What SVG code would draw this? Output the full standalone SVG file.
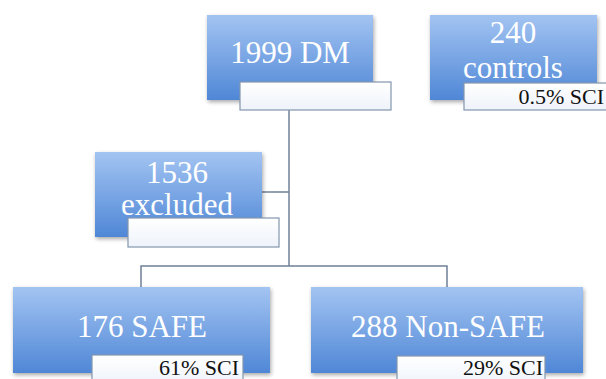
<svg xmlns="http://www.w3.org/2000/svg" width="606" height="379" viewBox="0 0 606 379">
<defs>
<linearGradient id="blue" x1="0" y1="0" x2="0" y2="1">
<stop offset="0" stop-color="#a3c4f2"/>
<stop offset="1" stop-color="#4f87d6"/>
</linearGradient>
<linearGradient id="white" x1="0" y1="0" x2="0" y2="1">
<stop offset="0" stop-color="#ffffff"/>
<stop offset="1" stop-color="#eef3fa"/>
</linearGradient>
<filter id="sh" x="-10%" y="-10%" width="125%" height="130%">
<feGaussianBlur in="SourceAlpha" stdDeviation="2"/>
<feOffset dx="1" dy="2"/>
<feComponentTransfer><feFuncA type="linear" slope="0.35"/></feComponentTransfer>
<feMerge><feMergeNode/><feMergeNode in="SourceGraphic"/></feMerge>
</filter>
</defs>
<style>
.box{fill:url(#blue);filter:url(#sh);}
.lab{fill:url(#white);stroke:#8496ae;stroke-width:1.2;}
.t{font-family:"Liberation Serif","Times New Roman",serif;font-size:31px;fill:#ffffff;text-anchor:middle;}
.s{font-family:"Liberation Serif","Times New Roman",serif;font-size:22px;fill:#111111;text-anchor:end;}
.c{fill:none;stroke:#6f8098;stroke-width:1.5;}
</style>
<rect width="606" height="379" fill="#ffffff"/>
<g id="connectors">
<path class="c" d="M289,110 V266"/>
<path class="c" d="M262,192 H289"/>
<path class="c" d="M141,287 V266 H447 V287"/>
</g>
<g id="dm">
<rect class="box" x="207" y="15" width="166" height="85"/>
<text class="t" x="290" y="63">1999 DM</text>
<rect class="lab" x="240" y="82" width="151" height="28"/>
</g>
<g id="controls">
<rect class="box" x="430" y="15" width="167" height="85"/>
<text class="t" x="513" y="43">240</text>
<text class="t" x="513" y="78">controls</text>
<rect class="lab" x="464" y="83" width="151" height="27"/>
<text class="s" x="604" y="104">0.5% SCI</text>
</g>
<g id="excluded">
<rect class="box" x="95" y="152" width="167" height="85"/>
<text class="t" x="177" y="183">1536</text>
<text class="t" x="177" y="215">excluded</text>
<rect class="lab" x="128" y="218" width="151" height="29"/>
</g>
<g id="safe">
<rect class="box" x="13" y="287" width="257" height="86"/>
<text class="t" x="142" y="337">176 SAFE</text>
<rect class="lab" x="92" y="355" width="151" height="30"/>
<text class="s" x="239" y="375">61% SCI</text>
</g>
<g id="nonsafe">
<rect class="box" x="311" y="287" width="272" height="86"/>
<text class="t" x="448" y="337">288 Non-SAFE</text>
<rect class="lab" x="397" y="356" width="148" height="30"/>
<text class="s" x="543" y="375">29% SCI</text>
</g>
</svg>
